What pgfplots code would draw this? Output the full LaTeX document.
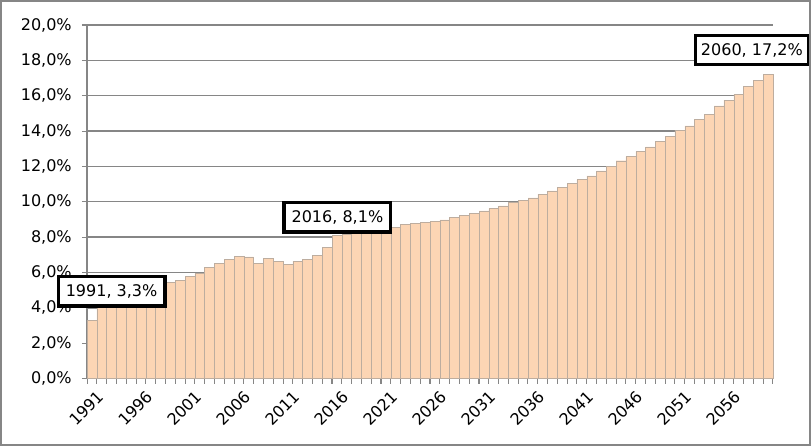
\documentclass[border=0pt]{standalone}
\usepackage{fontspec}
\setmainfont{DejaVu Sans}
\usepackage{pgfplots}
\pgfplotsset{compat=1.18}

\definecolor{barfill}{HTML}{FCD5B4}
\definecolor{baredge}{HTML}{BDAD9F}
\definecolor{gridgray}{HTML}{868686}

\pgfplotstableread{
year val
1991 3.30
1992 4.30
1993 4.50
1994 4.60
1995 4.80
1996 4.90
1997 5.00
1998 5.20
1999 5.45
2000 5.57
2001 5.76
2002 5.94
2003 6.28
2004 6.50
2005 6.75
2006 6.91
2007 6.88
2008 6.51
2009 6.80
2010 6.64
2011 6.47
2012 6.62
2013 6.75
2014 6.97
2015 7.41
2016 8.10
2017 8.17
2018 8.30
2019 8.35
2020 8.40
2021 8.50
2022 8.57
2023 8.72
2024 8.77
2025 8.83
2026 8.89
2027 8.97
2028 9.11
2029 9.21
2030 9.34
2031 9.49
2032 9.63
2033 9.77
2034 9.95
2035 10.08
2036 10.22
2037 10.43
2038 10.62
2039 10.81
2040 11.04
2041 11.25
2042 11.47
2043 11.75
2044 12.00
2045 12.32
2046 12.55
2047 12.85
2048 13.11
2049 13.41
2050 13.68
2051 14.02
2052 14.30
2053 14.68
2054 14.96
2055 15.43
2056 15.75
2057 16.09
2058 16.51
2059 16.85
2060 17.20
}\share

\begin{document}
\begin{tikzpicture}
\begin{axis}[
    scale only axis,
    width=513.75pt, height=264.75pt,
    xmin=1990.5, xmax=2060.5,
    ymin=0, ymax=20,
    clip=false,
    axis lines*=left,
    axis line style={-, draw=gridgray, line width=1pt},
    ymajorgrids=true,
    grid style={draw=gridgray, line width=1.1pt},
    ytick={0,2,...,20},
    yticklabel={\pgfmathprintnumber[fixed,fixed zerofill,precision=1,use comma]{\tick}\%},
    xtick={1990.5,1991.5,...,2060.5},
    xticklabels={},
    extra x ticks={1991,1996,2001,2006,2011,2016,2021,2026,2031,2036,2041,2046,2051,2056},
    extra x tick labels={1991,1996,2001,2006,2011,2016,2021,2026,2031,2036,2041,2046,2051,2056},
    extra x tick style={tick style={draw=none},
        xticklabel style={rotate=45, anchor=north east, xshift=3pt, yshift=-2pt}},
    tick align=outside,
    major tick length=4pt,
    tick style={draw=gridgray, line width=0.8pt},
    tick label style={font=\fontsize{12}{14}\selectfont},
    /pgf/number format/assume math mode=true,
    yticklabel style={xshift=-4pt},
    axis on top=false,
]
\addplot[ybar, bar width=1, fill=barfill, draw=baredge, line width=0.35pt]
    table[x=year, y=val] {\share};

\tikzset{lbl/.style={draw=black, line width=2.4pt, fill=white, inner sep=0pt,
    minimum width=80pt, minimum height=22pt, font=\fontsize{12}{14}\selectfont}}
\node[lbl] at (axis cs:1993.0,4.93) {1991, 3,3\%};
\node[lbl] at (axis cs:2016.05,9.12) {2016, 8,1\%};
\node[lbl, minimum width=85pt] at (axis cs:2058.35,18.58) {2060, 17,2\%};
\end{axis}
\draw[gridgray, line width=1.5pt] (-64.5pt,-49.5pt) rectangle (541.5pt,282.75pt);
\end{tikzpicture}
\end{document}
